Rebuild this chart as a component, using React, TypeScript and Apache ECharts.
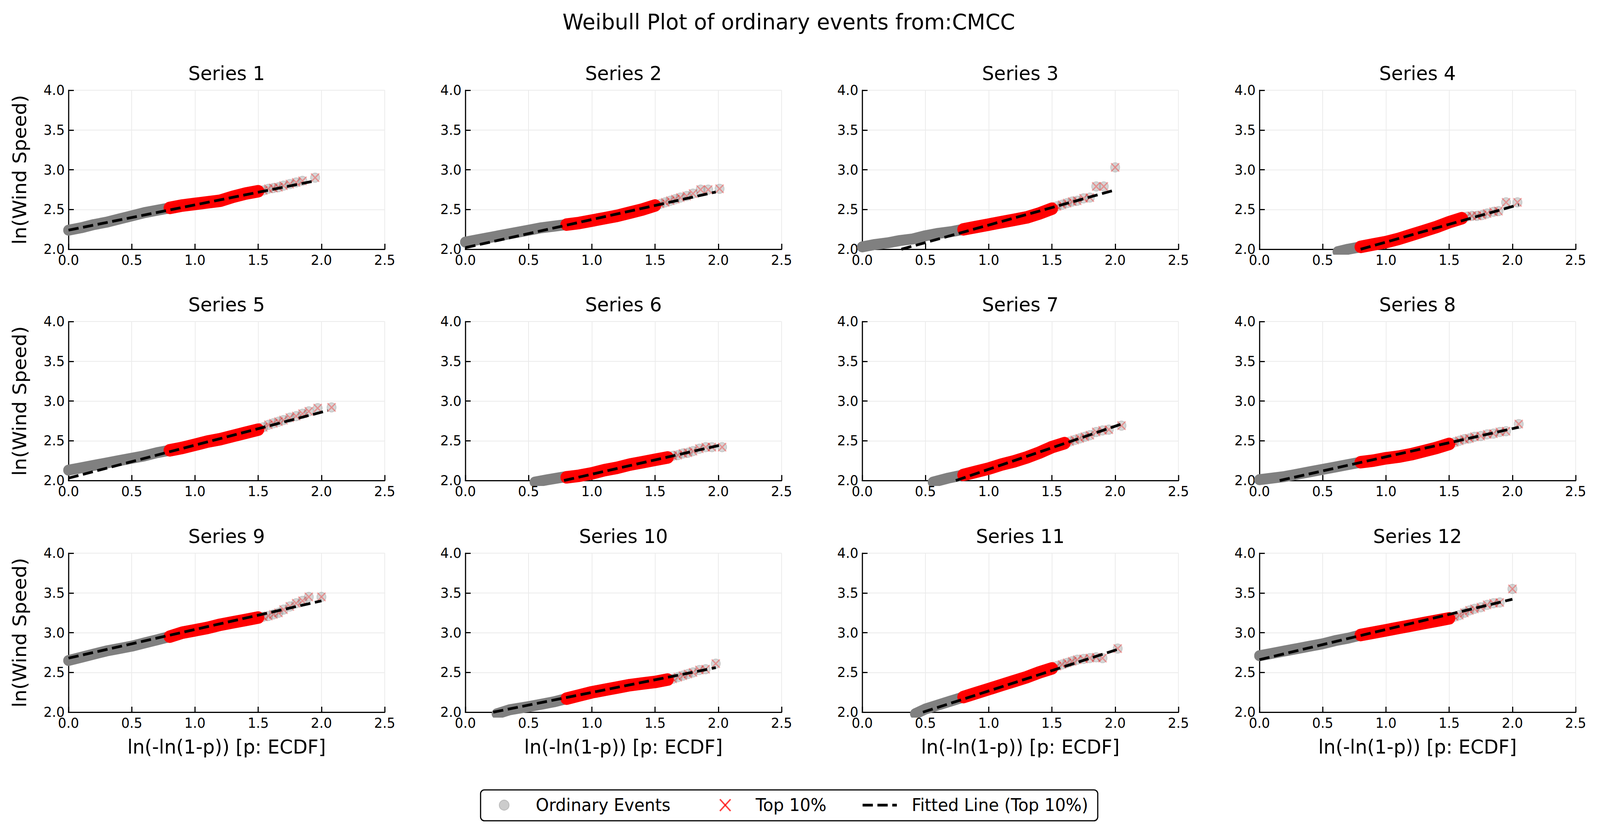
import { useEffect, useRef } from "react";
import * as echarts from "echarts";

const SERIES_NAMES = [
  "Series 1", "Series 2", "Series 3", "Series 4",
  "Series 5", "Series 6", "Series 7", "Series 8",
  "Series 9", "Series 10", "Series 11", "Series 12",
];

// dense part of the ordinary events (grey band), [x, y]
const ORDINARY_BODY: number[][][] = [
  [[0, 2.24], [0.1, 2.27], [0.2, 2.31], [0.3, 2.34], [0.4, 2.38], [0.5, 2.42], [0.6, 2.46], [0.7, 2.49], [0.8, 2.52]],
  [[0, 2.09], [0.1, 2.12], [0.2, 2.15], [0.3, 2.18], [0.4, 2.21], [0.5, 2.24], [0.6, 2.27], [0.7, 2.29], [0.8, 2.31]],
  [[0, 2.03], [0.1, 2.06], [0.2, 2.08], [0.3, 2.11], [0.4, 2.13], [0.5, 2.17], [0.6, 2.2], [0.7, 2.22], [0.8, 2.25]],
  [[0.62, 1.97], [0.7, 2.0], [0.8, 2.03]],
  [[0, 2.13], [0.1, 2.16], [0.2, 2.19], [0.3, 2.22], [0.4, 2.25], [0.5, 2.28], [0.6, 2.31], [0.7, 2.35], [0.8, 2.38]],
  [[0.55, 1.98], [0.65, 2.01], [0.8, 2.05]],
  [[0.56, 1.98], [0.68, 2.03], [0.8, 2.07]],
  [[0, 2.01], [0.1, 2.03], [0.2, 2.05], [0.3, 2.08], [0.4, 2.11], [0.5, 2.14], [0.6, 2.17], [0.7, 2.2], [0.8, 2.23]],
  [[0, 2.65], [0.1, 2.69], [0.2, 2.73], [0.3, 2.77], [0.4, 2.8], [0.5, 2.83], [0.6, 2.87], [0.7, 2.91], [0.8, 2.95]],
  [[0.25, 1.98], [0.35, 2.03], [0.5, 2.07], [0.6, 2.1], [0.7, 2.13], [0.8, 2.17]],
  [[0.42, 1.98], [0.5, 2.04], [0.6, 2.09], [0.7, 2.14], [0.8, 2.19]],
  [[0, 2.71], [0.1, 2.74], [0.2, 2.77], [0.3, 2.8], [0.4, 2.83], [0.5, 2.86], [0.6, 2.9], [0.7, 2.93], [0.8, 2.97]],
];

// dense part of the top 10% (red band)
const TOP_BODY: number[][][] = [
  [[0.8, 2.52], [0.9, 2.55], [1.0, 2.57], [1.1, 2.59], [1.2, 2.61], [1.3, 2.66], [1.4, 2.7], [1.5, 2.73]],
  [[0.8, 2.31], [0.9, 2.33], [1.0, 2.36], [1.1, 2.39], [1.2, 2.42], [1.3, 2.46], [1.4, 2.5], [1.5, 2.55]],
  [[0.8, 2.25], [0.9, 2.28], [1.0, 2.31], [1.1, 2.34], [1.2, 2.37], [1.3, 2.4], [1.4, 2.45], [1.5, 2.51]],
  [[0.8, 2.03], [0.9, 2.06], [1.0, 2.09], [1.1, 2.13], [1.2, 2.18], [1.3, 2.23], [1.4, 2.28], [1.5, 2.34], [1.6, 2.39]],
  [[0.8, 2.38], [0.9, 2.41], [1.0, 2.45], [1.1, 2.49], [1.2, 2.52], [1.3, 2.56], [1.4, 2.6], [1.5, 2.64]],
  [[0.8, 2.04], [0.9, 2.06], [1.0, 2.09], [1.1, 2.13], [1.2, 2.16], [1.3, 2.2], [1.4, 2.23], [1.5, 2.26], [1.6, 2.29]],
  [[0.8, 2.07], [0.9, 2.11], [1.0, 2.15], [1.1, 2.2], [1.2, 2.24], [1.3, 2.29], [1.4, 2.35], [1.5, 2.42], [1.6, 2.47]],
  [[0.8, 2.23], [0.9, 2.25], [1.0, 2.28], [1.1, 2.3], [1.2, 2.33], [1.3, 2.37], [1.4, 2.41], [1.5, 2.46]],
  [[0.8, 2.95], [0.9, 3.0], [1.0, 3.03], [1.1, 3.06], [1.2, 3.1], [1.3, 3.13], [1.4, 3.16], [1.5, 3.19]],
  [[0.8, 2.17], [0.9, 2.21], [1.0, 2.25], [1.1, 2.28], [1.2, 2.31], [1.3, 2.34], [1.4, 2.36], [1.5, 2.38], [1.6, 2.41]],
  [[0.8, 2.19], [0.9, 2.24], [1.0, 2.29], [1.1, 2.34], [1.2, 2.39], [1.3, 2.44], [1.4, 2.5], [1.5, 2.55]],
  [[0.8, 2.97], [0.9, 3.0], [1.0, 3.03], [1.1, 3.06], [1.2, 3.09], [1.3, 3.12], [1.4, 3.15], [1.5, 3.18]],
];

// sparse upper tail, each point is both an ordinary event and a top-10% cross
const TOP_TAIL: number[][][] = [
  [[1.54, 2.74], [1.58, 2.76], [1.62, 2.77], [1.66, 2.78], [1.7, 2.8], [1.75, 2.82], [1.8, 2.84], [1.85, 2.86], [1.95, 2.9]],
  [[1.54, 2.57], [1.58, 2.59], [1.62, 2.61], [1.66, 2.63], [1.7, 2.65], [1.75, 2.67], [1.8, 2.7], [1.86, 2.75], [1.92, 2.75], [2.01, 2.76]],
  [[1.54, 2.54], [1.58, 2.56], [1.62, 2.58], [1.66, 2.6], [1.7, 2.61], [1.75, 2.64], [1.8, 2.65], [1.85, 2.79], [1.91, 2.79], [2.0, 3.03]],
  [[1.64, 2.41], [1.68, 2.42], [1.72, 2.42], [1.76, 2.43], [1.8, 2.45], [1.85, 2.47], [1.89, 2.48], [1.95, 2.59], [2.04, 2.59]],
  [[1.54, 2.67], [1.58, 2.7], [1.62, 2.72], [1.66, 2.74], [1.7, 2.76], [1.75, 2.79], [1.8, 2.81], [1.85, 2.84], [1.9, 2.87], [1.97, 2.91], [2.08, 2.92]],
  [[1.64, 2.31], [1.68, 2.32], [1.72, 2.34], [1.76, 2.35], [1.8, 2.37], [1.85, 2.4], [1.9, 2.42], [1.95, 2.42], [2.03, 2.42]],
  [[1.64, 2.49], [1.68, 2.51], [1.72, 2.53], [1.76, 2.55], [1.8, 2.57], [1.85, 2.61], [1.9, 2.63], [1.95, 2.64], [2.05, 2.69]],
  [[1.54, 2.48], [1.58, 2.5], [1.62, 2.52], [1.66, 2.53], [1.7, 2.55], [1.75, 2.56], [1.8, 2.58], [1.85, 2.59], [1.9, 2.61], [1.95, 2.62], [2.05, 2.71]],
  [[1.54, 3.2], [1.58, 3.21], [1.62, 3.23], [1.66, 3.25], [1.7, 3.29], [1.75, 3.33], [1.8, 3.37], [1.85, 3.4], [1.9, 3.45], [2.0, 3.45]],
  [[1.64, 2.42], [1.68, 2.44], [1.72, 2.46], [1.76, 2.48], [1.8, 2.5], [1.85, 2.53], [1.9, 2.54], [1.98, 2.61]],
  [[1.54, 2.58], [1.58, 2.6], [1.62, 2.62], [1.66, 2.64], [1.7, 2.66], [1.75, 2.67], [1.8, 2.68], [1.85, 2.69], [1.9, 2.68], [2.02, 2.8]],
  [[1.54, 3.2], [1.58, 3.22], [1.62, 3.25], [1.66, 3.28], [1.7, 3.3], [1.75, 3.32], [1.8, 3.35], [1.85, 3.37], [1.9, 3.38], [2.0, 3.55]],
];

// fitted line (top 10%): [x0, y0, x1, y1], visible part
const FIT_LINES: number[][] = [
  [0, 2.24, 1.95, 2.86],
  [0, 2.02, 1.98, 2.72],
  [0.31, 2.0, 2.0, 2.745],
  [0.8, 2.0, 2.05, 2.56],
  [0, 2.03, 2.05, 2.88],
  [0.78, 2.0, 2.03, 2.45],
  [0.74, 2.0, 2.05, 2.71],
  [0.16, 2.0, 2.05, 2.67],
  [0, 2.68, 2.0, 3.4],
  [0.22, 2.0, 1.98, 2.56],
  [0.48, 2.0, 2.02, 2.79],
  [0, 2.66, 2.0, 3.42],
];

const X_MIN = 0, X_MAX = 2.5, X_STEP = 0.5;
const Y_MIN = 2, Y_MAX = 4, Y_STEP = 0.5;

const W = 4205, H = 2140;
const COL_LEFT = [180, 1223, 2266, 3310];
const ROW_TOP = [231, 823, 1416];
const AX_W = 831, AX_H = 407;
const FONT = "DejaVu Sans";
const X_SYMBOL = "path://M1,0L5,4L9,0L10,1L6,5L10,9L9,10L5,6L1,10L0,9L4,5L0,1Z";

function txt(text: string, x: number, y: number, size: number, extra: any = {}) {
  return {
    type: "text", x, y, ...extra,
    style: {
      text, fill: "#000", fontSize: size, fontFamily: FONT, font: `${size}px "${FONT}"`,
      align: extra.align || "center", textAlign: extra.align || "center",
      verticalAlign: "middle", textVerticalAlign: "middle",
    },
  };
}

export default function App() {
  const ref = useRef<HTMLDivElement>(null);
  // fit the fixed-size figure into whatever the viewport really is
  const kx = typeof window !== "undefined" ? window.innerWidth / W : 1;
  const ky = typeof window !== "undefined" ? window.innerHeight / H : 1;

  useEffect(() => {
    if (!ref.current) return;
    document.body.style.margin = "0";
    document.body.style.overflow = "hidden";
    const chart = echarts.init(ref.current, null, { renderer: "svg" });
    const grid: any[] = [], xAxis: any[] = [], yAxis: any[] = [], series: any[] = [], graphic: any[] = [];
    const axisCommon = {
      type: "value",
      axisLine: { show: true, onZero: false, lineStyle: { color: "#000", width: 3 } },
      axisTick: { show: true, inside: true, length: 14, lineStyle: { color: "#000", width: 3 } },
      axisLabel: { color: "#000", fontSize: 35, fontFamily: FONT, margin: 10, formatter: (v: number) => v.toFixed(1) },
      splitLine: { show: true, lineStyle: { color: "#ebebeb", width: 2 } },
    };
    SERIES_NAMES.forEach((name, i) => {
      const r = Math.floor(i / 4), c = i % 4;
      const left = COL_LEFT[c], top = ROW_TOP[r];
      grid.push({ left, top, width: AX_W, height: AX_H });
      xAxis.push({ ...axisCommon, gridIndex: i, min: X_MIN, max: X_MAX, interval: X_STEP });
      yAxis.push({ ...axisCommon, gridIndex: i, min: Y_MIN, max: Y_MAX, interval: Y_STEP });
      const f = FIT_LINES[i];
      series.push(
        {
          type: "line", name: "Ordinary Events", xAxisIndex: i, yAxisIndex: i, data: ORDINARY_BODY[i],
          symbol: "none", lineStyle: { color: "#808080", width: 28, cap: "round", join: "round" }, z: 2, silent: true,
        },
        {
          type: "scatter", name: "Ordinary Events", xAxisIndex: i, yAxisIndex: i, data: TOP_TAIL[i],
          symbol: "circle", symbolSize: 24,
          itemStyle: { color: "rgba(128,128,128,0.4)", borderColor: "rgba(128,128,128,0.4)", borderWidth: 2 }, z: 3,
        },
        {
          type: "line", name: "Top 10%", xAxisIndex: i, yAxisIndex: i, data: TOP_BODY[i],
          symbol: "none", lineStyle: { color: "#ff0000", width: 32, cap: "round", join: "round" }, z: 4, silent: true,
        },
        {
          type: "scatter", name: "Top 10%", xAxisIndex: i, yAxisIndex: i, data: TOP_TAIL[i],
          symbol: X_SYMBOL, symbolSize: 24, itemStyle: { color: "rgba(255,0,0,0.4)" }, z: 5,
        },
        {
          type: "line", name: "Fitted Line (Top 10%)", xAxisIndex: i, yAxisIndex: i,
          data: [[f[0], f[1]], [f[2], f[3]]], symbol: "none",
          lineStyle: { color: "#000", width: 7, type: [27, 12] }, z: 6, silent: true,
        },
      );
      graphic.push(txt(name, left + AX_W / 2, top - 43, 50));
      if (c === 0) graphic.push(txt("ln(Wind Speed)", 52, top + AX_H / 2, 50, { rotation: Math.PI / 2 }));
      if (r === 2) graphic.push(txt("ln(-ln(1-p)) [p: ECDF]", left + AX_W / 2, 1912, 50));
    });
    graphic.push(txt("Weibull Plot of ordinary events from:CMCC", 2073, 56, 56));
    // legend box
    const ly = 2061;
    graphic.push(
      { type: "rect", shape: { x: 1263, y: 2022, width: 1622, height: 79, r: 10 }, style: { fill: "#fff", stroke: "#000", lineWidth: 3 } },
      { type: "circle", shape: { cx: 1325, cy: ly, r: 13 }, style: { fill: "rgba(128,128,128,0.4)", stroke: "rgba(128,128,128,0.4)", lineWidth: 2 } },
      txt("Ordinary Events", 1408, ly, 44, { align: "left" }),
      { type: "line", shape: { x1: 1892, y1: ly - 15, x2: 1920, y2: ly + 15 }, style: { stroke: "rgba(255,0,0,0.75)", lineWidth: 4 } },
      { type: "line", shape: { x1: 1920, y1: ly - 15, x2: 1892, y2: ly + 15 }, style: { stroke: "rgba(255,0,0,0.75)", lineWidth: 4 } },
      txt("Top 10%", 1986, ly, 44, { align: "left" }),
      { type: "line", shape: { x1: 2267, y1: ly, x2: 2357, y2: ly }, style: { stroke: "#000", lineWidth: 7, lineDash: [27, 12] } },
      txt("Fitted Line (Top 10%)", 2396, ly, 44, { align: "left" }),
    );
    chart.setOption({
      animation: false,
      backgroundColor: "#fff",
      textStyle: { fontFamily: FONT },
      grid, xAxis, yAxis, series, graphic,
    });
    return () => chart.dispose();
  }, []);
  return (
    <div style={{ width: W * kx, height: H * ky, overflow: "hidden" }}>
      <div
        ref={ref}
        style={{ width: W, height: H, transform: `scale(${kx}, ${ky})`, transformOrigin: "0 0" }}
      />
    </div>
  );
}
